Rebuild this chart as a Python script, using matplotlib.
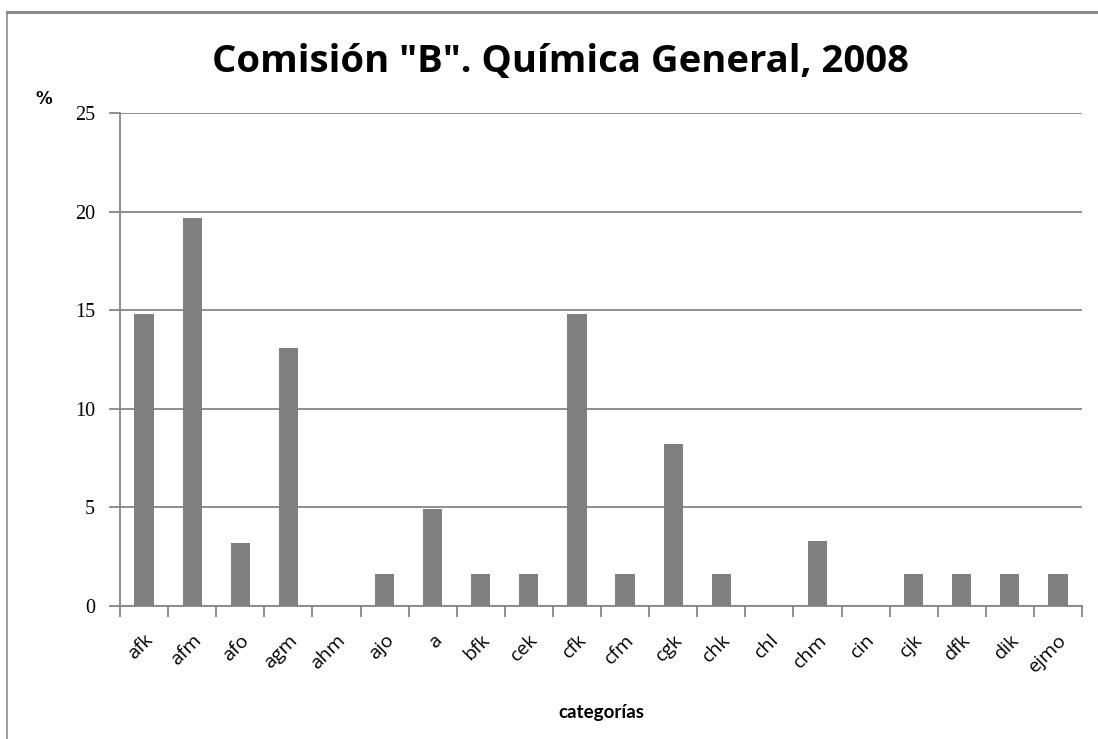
import matplotlib
matplotlib.use("Agg")
import matplotlib.pyplot as plt
from matplotlib.lines import Line2D
import numpy as np

categories = ["afk", "afm", "afo", "agm", "ahm", "ajo", "a", "bfk", "cek", "cfk",
              "cfm", "cgk", "chk", "chl", "chm", "cin", "cjk", "dfk", "dik", "ejmo"]
percent = [14.8, 19.7, 3.2, 13.1, 0.0, 1.6, 4.9, 1.6, 1.6, 14.8,
           1.6, 8.2, 1.6, 0.0, 3.3, 0.0, 1.6, 1.6, 1.6, 1.6]
y_ticks = [0, 5, 10, 15, 20, 25]

GRID = "#868686"
BAR = "#808080"

fig = plt.figure(figsize=(10.98, 7.39), dpi=100)
ax = fig.add_axes([120 / 1098, 1 - 606 / 739, (1082 - 120) / 1098, (606 - 113) / 739])

x = np.arange(len(categories))
ax.bar(x, percent, width=0.4, color=BAR, zorder=3)

ax.set_xlim(-0.5, len(categories) - 0.5)
ax.set_ylim(0, 25)
ax.set_yticks(y_ticks)
ax.set_yticklabels([str(v) for v in y_ticks], fontsize=14.5, family="Liberation Serif")
ax.yaxis.grid(True, color=GRID, linewidth=1.3, zorder=0)

ax.set_xticks(x)
ax.set_xticklabels(categories, rotation=45, ha="right", rotation_mode="anchor",
                   fontsize=14, family="Open Sans")
ax.set_xticks(np.arange(-0.5, len(categories)), minor=True)
ax.tick_params(axis="x", which="major", length=0, pad=18)
ax.tick_params(axis="x", which="minor", length=8, color=GRID, width=1.3)
ax.tick_params(axis="y", length=8, color=GRID, width=1.3, pad=10)

for s in ["top", "right"]:
    ax.spines[s].set_visible(False)
for s in ["left", "bottom"]:
    ax.spines[s].set_color(GRID)
    ax.spines[s].set_linewidth(1.3)

ax.set_xlabel("categorías", fontsize=13.5, fontweight="bold", family="Lato", labelpad=20)

fig.text(560 / 1098, 1 - 62 / 739, 'Comisión "B". Química General, 2008',
         ha="center", va="center", fontsize=27.5, fontweight="bold", family="Open Sans")
fig.text(44 / 1098, 1 - 99 / 739, "%", ha="center", va="center",
         fontsize=12, fontweight="bold")

# outer frame (top and left edges only)
fig.add_artist(Line2D([7 / 1098, 1], [1 - 11.5 / 739, 1 - 11.5 / 739],
                      transform=fig.transFigure, color="#8c8c8c", linewidth=2.2))
fig.add_artist(Line2D([7 / 1098, 7 / 1098], [0, 1 - 11.5 / 739],
                      transform=fig.transFigure, color="#8c8c8c", linewidth=1.2))

fig.savefig("out.png", dpi=100)
